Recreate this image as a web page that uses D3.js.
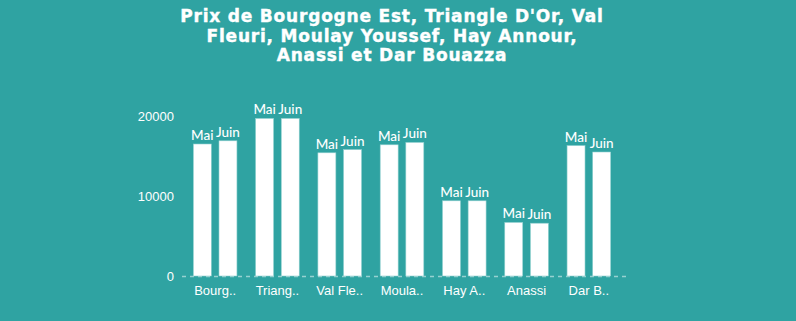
<!DOCTYPE html>
<html>
<head>
<meta charset="utf-8">
<script src="https://cdn.jsdelivr.net/npm/d3@7"></script>
<style>
  html, body { margin: 0; padding: 0; background: #2fa3a2; }
  svg { display: block; }
</style>
</head>
<body>
<svg id="chart" width="796" height="321"></svg>
<script>
// data
const quartiers = ["Bourgogne Est", "Triangle D'Or", "Val Fleuri", "Moulay Youssef", "Hay Annour", "Anassi", "Dar Bouazza"];
const shortLabels = ["Bourg..", "Triang..", "Val Fle..", "Moula..", "Hay A..", "Anassi", "Dar B.."];
const mois = ["Mai", "Juin"];
const prixMai = [16500, 19700, 15400, 16400, 9400, 6700, 16300];
const prixJuin = [16900, 19700, 15800, 16700, 9400, 6600, 15500];
const yTicks = [0, 10000, 20000];
const titleLines = ["Prix de Bourgogne Est, Triangle D'Or, Val", "Fleuri, Moulay Youssef, Hay Annour,", "Anassi et Dar Bouazza"];

const width = 796, height = 321;
const margin = { top: 100, right: 176, bottom: 45, left: 184 };

const svg = d3.select("#chart");

// title
svg.append("text")
  .attr("text-anchor", "middle")
  .attr("x", 392)
  .attr("y", 22)
  .style("font-family", "'DejaVu Sans', sans-serif")
  .style("font-weight", 700)
  .style("font-size", "17px")
  .style("letter-spacing", "0.8px")
  .style("fill", "#fff")
  .style("stroke", "#fff")
  .style("stroke-width", 0.4)
  .selectAll("tspan")
  .data(titleLines)
  .join("tspan")
  .attr("x", 392)
  .attr("dy", (d, i) => (i === 0 ? 0 : 19.5))
  .text(d => d);

const x0 = d3.scaleBand()
  .domain(quartiers)
  .range([margin.left, width - margin.right])
  .paddingInner(0.3)
  .paddingOuter(0.15);

const x1 = d3.scaleBand()
  .domain(mois)
  .range([0, x0.bandwidth()])
  .paddingInner(0.3);

const y = d3.scaleLinear()
  .domain([0, 20000])
  .range([276, 116]);

// y axis labels
const yAxis = svg.append("g")
  .attr("transform", `translate(${margin.left - 10},0)`)
  .call(d3.axisLeft(y).tickValues(yTicks).tickSize(0).tickPadding(0).tickFormat(d3.format("d")));
yAxis.select(".domain").remove();
yAxis.selectAll("text")
  .style("font-family", "'Liberation Sans', Arial, sans-serif")
  .style("font-size", "13px")
  .style("fill", "#fff");

// baseline
svg.append("line")
  .attr("x1", margin.left - 2)
  .attr("x2", width - margin.right + 6)
  .attr("y1", y(0) + 0.5)
  .attr("y2", y(0) + 0.5)
  .style("stroke", "rgba(255,255,255,0.5)")
  .style("stroke-width", 1.5)
  .style("stroke-dasharray", "4,4");

// x axis labels
const xAxis = svg.append("g")
  .attr("transform", `translate(0,${y(0)})`)
  .call(d3.axisBottom(x0).tickSize(0).tickPadding(10).tickFormat((d, i) => shortLabels[i]));
xAxis.select(".domain").remove();
xAxis.selectAll("text")
  .style("font-family", "'Liberation Sans', Arial, sans-serif")
  .style("font-size", "13px")
  .style("fill", "#fff");

const rows = quartiers.map((q, i) => ({ q, vals: [prixMai[i], prixJuin[i]] }));

const groups = svg.selectAll(".grp")
  .data(rows)
  .join("g")
  .attr("class", "grp")
  .attr("transform", d => `translate(${x0(d.q)},0)`);

groups.selectAll("rect")
  .data(d => d.vals.map((v, j) => ({ m: mois[j], v })))
  .join("rect")
  .attr("x", d => x1(d.m))
  .attr("width", x1.bandwidth())
  .attr("y", d => y(d.v))
  .attr("height", d => y(0) - y(d.v))
  .style("fill", "#fff")
  .style("stroke", "#8fd0cf")
  .style("stroke-width", 0.6);

groups.selectAll("text.lbl")
  .data(d => d.vals.map((v, j) => ({ m: mois[j], v })))
  .join("text")
  .attr("class", "lbl")
  .attr("x", d => x1(d.m) + x1.bandwidth() / 2)
  .attr("y", d => y(d.v) - 4)
  .attr("text-anchor", "middle")
  .style("font-family", "Lato, sans-serif")
  .style("font-weight", 500)
  .style("font-size", "13.5px")
  .style("fill", "#fff")
  .text(d => d.m);
</script>
</body>
</html>
